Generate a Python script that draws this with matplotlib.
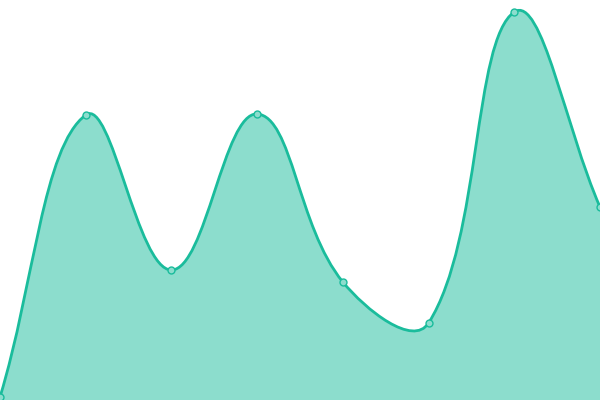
import numpy as np
import matplotlib
matplotlib.use("Agg")
import matplotlib.pyplot as plt
from matplotlib.path import Path
from matplotlib.patches import PathPatch

# data
labels = ["A", "B", "C", "D", "E", "F", "G", "H"]
values = [3, 285, 130, 286, 118, 77, 388, 193]

LINE = "#1abc9c"
TENSION = 0.4


def spline_controls(pts, t):
    # chart.js style spline: control points computed in pixel space
    n = len(pts)
    ctrl = []
    for i in range(n):
        cur = pts[i]
        prev = pts[i - 1] if i > 0 else cur
        nxt = pts[i + 1] if i < n - 1 else cur
        d01 = np.hypot(*(cur - prev))
        d12 = np.hypot(*(nxt - cur))
        tot = d01 + d12
        s01 = d01 / tot if tot else 0
        s12 = d12 / tot if tot else 0
        fa, fb = t * s01, t * s12
        cp_prev = cur - fa * (nxt - prev)
        cp_next = cur + fb * (nxt - prev)
        ctrl.append((cp_prev, cp_next))
    return ctrl


fig = plt.figure(figsize=(6, 4), dpi=100)
ax = fig.add_axes([0, 0, 1, 1])
ax.set_xlim(0, len(values) - 1)
ax.set_ylim(0, 400)
ax.axis("off")

x = np.arange(len(values))
disp = ax.transData.transform(np.column_stack([x, values]))
ctrl = spline_controls(disp, TENSION)

verts = [disp[0]]
codes = [Path.MOVETO]
for i in range(len(disp) - 1):
    verts += [ctrl[i][1], ctrl[i + 1][0], disp[i + 1]]
    codes += [Path.CURVE4] * 3

inv = ax.transData.inverted()
line_verts = inv.transform(np.array(verts))

# filled area down to baseline
fill_verts = list(line_verts) + [(x[-1], 0), (x[0], 0), line_verts[0]]
fill_codes = codes + [Path.LINETO, Path.LINETO, Path.CLOSEPOLY]
ax.add_patch(PathPatch(Path(fill_verts, fill_codes), facecolor=LINE, alpha=0.5,
                       edgecolor="none", zorder=1))
ax.add_patch(PathPatch(Path(line_verts, codes), facecolor="none", edgecolor=LINE,
                       linewidth=2.0, zorder=2))

ax.plot(x, values, "o", markersize=5, markerfacecolor="#8cddcd",
        markeredgecolor=LINE, markeredgewidth=1.0, zorder=3, clip_on=False)

fig.savefig("out.png", dpi=100)
